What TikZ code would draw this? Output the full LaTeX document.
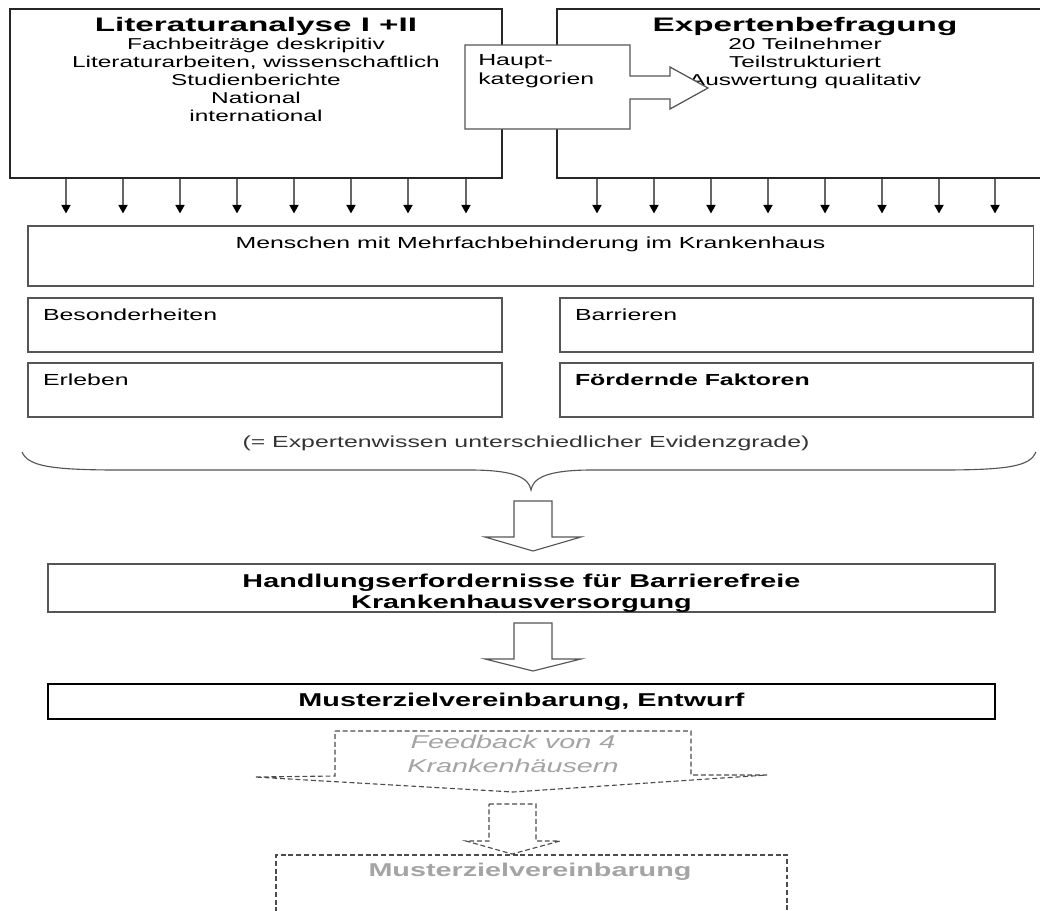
\documentclass[tikz,border=0pt]{standalone}
\usepackage{fontspec}
\setmainfont{Liberation Sans}
\newfontfamily\breitfont[FakeStretch=1.55]{Liberation Sans}
\newfontfamily\titelfont[FakeStretch=1.7]{Liberation Sans}
\usetikzlibrary{positioning,arrows.meta}
\definecolor{rahmen}{HTML}{555555}
\definecolor{blass}{HTML}{A4A4A4}

\begin{document}
\begin{tikzpicture}[x=0.025cm,y=-0.025cm,
  kasten/.style={draw=rahmen,line width=0.9pt,fill=white,inner sep=0pt},
  txt/.style={inner sep=0pt,font=\breitfont\fontsize{11.4}{13.5}\selectfont},
  fett/.style={inner sep=0pt,font=\breitfont\bfseries\fontsize{13.2}{15}\selectfont},
  pfeil/.style={draw=black!60,line width=0.9pt,shorten >=8.5pt,
    -{Triangle[length=6pt,width=6.5pt,color=black]}},
  blockpfeil/.style={draw=rahmen,line width=0.8pt,fill=white},
  gestrichelt/.style={draw=black!70,line width=0.8pt,dash pattern=on 3.5pt off 2pt}]

\useasboundingbox (0,0) rectangle (1040,910);
\clip (0,0) rectangle (1040,910);
\fill[white] (0,0) rectangle (1040,910);

% obere Kaesten
\node[kasten,draw=black!85,minimum width=12.3cm,minimum height=4.225cm] (lit) at (256,93.5) {};
\node[kasten,draw=black!85,minimum width=12.4cm,minimum height=4.225cm] (exp) at (805,93.5) {};

\node[txt,align=center,below=6.5pt of lit.north,font=\breitfont\fontsize{11.2}{12.8}\selectfont] (litT)
  {{\titelfont\bfseries\fontsize{13.9}{12.8}\selectfont Literaturanalyse I +II}\\
   Fachbeiträge deskripitiv\\Literaturarbeiten, wissenschaftlich\\Studienberichte\\National\\international};
\node[txt,align=center,below=6.5pt of exp.north,font=\breitfont\fontsize{11.2}{12.8}\selectfont] (expT)
  {{\titelfont\bfseries\fontsize{13.9}{12.8}\selectfont Expertenbefragung}\\
   20 Teilnehmer\\Teilstrukturiert\\Auswertung qualitativ};

% Hauptkategorien
\draw[rahmen,line width=0.9pt,fill=white] (465,45) -- (630,45) -- (630,76) -- (670,76) -- (670,67)
  -- (708,88) -- (670,109) -- (670,99) -- (630,99) -- (630,129) -- (465,129) -- cycle;
\node[txt,align=left,anchor=north west] (haupt) at (478,54) {Haupt-\\kategorien};

% mittlere Kaesten
\node[kasten,minimum width=25.125cm,minimum height=1.5cm] (mensch) at (530.5,256) {};
\node[txt,below=8.3pt of mensch.north] (menschT) {Menschen mit Mehrfachbehinderung im Krankenhaus};

\node[kasten,minimum width=11.85cm,minimum height=1.35cm] (bes) at (265,325) {};
\node[kasten,minimum width=11.825cm,minimum height=1.35cm] (bar) at (796.5,325) {};
\node[kasten,minimum width=11.85cm,minimum height=1.35cm] (erl) at (265,390) {};
\node[kasten,minimum width=11.825cm,minimum height=1.35cm] (foe) at (796.5,390) {};
\node[txt,below right=8pt and 11pt of bes.north west] (besT) {Besonderheiten};
\node[txt,below right=8pt and 11pt of bar.north west] (barT) {Barrieren};
\node[txt,below right=8pt and 11pt of erl.north west] (erlT) {Erleben};
\node[txt,below right=8pt and 11pt of foe.north west] (foeT) {\bfseries Fördernde Faktoren};

\foreach \x in {66,123,180,237,294,351,408,466}
  \draw[pfeil] (\x,0 |- lit.south) -- (\x,0 |- mensch.north);
\foreach \x in {597,654,711,768,825,882,939,995}
  \draw[pfeil] (\x,0 |- exp.south) -- (\x,0 |- mensch.north);

% Klammer
\node[txt,text=black!80] (evidenz) at (526,443) {(= Expertenwissen unterschiedlicher Evidenzgrade)};
\coordinate (klammer) at (531,490);
\draw[rahmen,line width=0.8pt] (22,452) .. controls (28,466) and (50,470) .. (120,470) -- (470,470)
  .. controls (515,470) and (529,478) .. (klammer) .. controls (533,478) and (547,470) .. (592,470)
  -- (940,470) .. controls (1010,470) and (1030,466) .. (1036,452);

\draw[blockpfeil] (514,501) -- (552,501) -- (552,537) -- (581,537) -- (533,551) -- (485,537) -- (514,537) -- cycle;

% Handlungserfordernisse
\node[kasten,minimum width=23.675cm,minimum height=1.2cm] (handl) at (521.5,588) {};
\begin{scope}
\clip (handl.north west) rectangle (handl.south east);
\node[fett,align=center,below=7.5pt of handl.north] (handlT)
  {Handlungserfordernisse für Barrierefreie\\Krankenhausversorgung};
\end{scope}

\draw[blockpfeil] (514,623) -- (552,623) -- (552,659) -- (581,659) -- (533,671) -- (485,659) -- (514,659) -- cycle;

\node[kasten,draw=black,minimum width=23.675cm,minimum height=0.875cm] (entw) at (521.5,701.5) {};
\node[fett] (entwT) at (entw) {Musterzielvereinbarung, Entwurf};

% gestrichelter Teil
\draw[gestrichelt] (335,731) -- (691,731) -- (691,775) -- (767,775) -- (513,792) -- (255,777) -- (335,776) -- cycle;
\node[inner sep=0pt,align=center,text=blass,font=\breitfont\itshape\fontsize{13.2}{17}\selectfont] (feedback)
  at (513,754) {Feedback von 4\\Krankenhäusern};
\draw[gestrichelt] (489,804) -- (536,804) -- (536,841) -- (560,841) -- (512,854) -- (466,841) -- (489,841) -- cycle;
\draw[gestrichelt] (276,920) -- (276,855) -- (787,855) -- (787,920);
\node[fett,text=blass] (muster) at (530,872) {Musterzielvereinbarung};
\end{tikzpicture}
\end{document}
